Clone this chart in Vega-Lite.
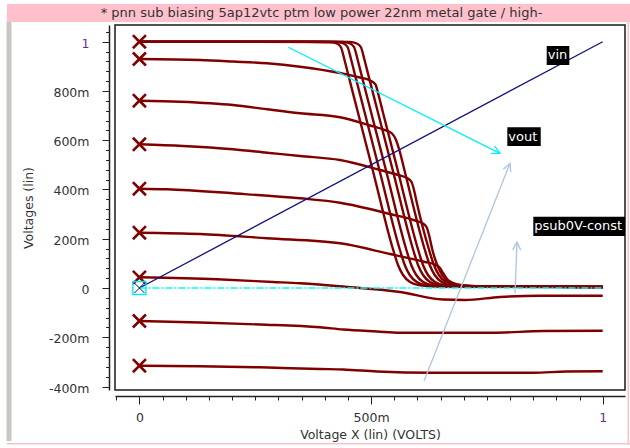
{
 "$schema": "https://vega.github.io/schema/vega-lite/v6.json",
 "width": 510,
 "height": 365,
 "autosize": {"type": "none"},
 "padding": {"left": 115, "top": 25, "right": 5, "bottom": 58},
 "background": "white",
 "config": {
  "view": {"stroke": "#1a1a1a", "strokeWidth": 1.5},
  "axis": {"labelFont": "DejaVu Sans", "labelFontSize": 12.5, "labelColor": "#333", "titleFont": "DejaVu Sans", "titleFontSize": 12.5, "titleFontWeight": "normal", "titleColor": "#333", "domainColor": "#222", "tickColor": "#222", "grid": false},
  "text": {"font": "DejaVu Sans"}
 },
 "datasets": {
  "chrome": [
   {"part": "banner", "x": -0.2858, "x2": 1.0589, "y": 1.1531, "y2": 1.0800},
   {"part": "side", "x": -0.2868, "x2": -0.2761, "y": 1.0800, "y2": -0.6212},
   {"part": "edge", "x": -0.2868, "x2": 1.0589, "y": -0.6293, "y2": -0.6354},
   {"part": "edge", "x": 1.0535, "x2": 1.0568, "y": 1.0800, "y2": -0.6354}
  ],
  "banner": [
   {"t": "* pnn sub biasing 5ap12vtc ptm low power 22nm metal gate / high-", "x": 0.3930, "y": 1.1165}
  ],
  "vout": [
   {"s":"L1","x":0,"y":1},{"s":"L1","x":0.2387,"y":1},{"s":"L1","x":0.4110,"y":0.9988},{"s":"L1","x":0.4261,"y":0.9927},{"s":"L1","x":0.4347,"y":0.9785},{"s":"L1","x":0.4427,"y":0.9257},{"s":"L1","x":0.4498,"y":0.8729},{"s":"L1","x":0.4714,"y":0.7146},{"s":"L1","x":0.5038,"y":0.4771},{"s":"L1","x":0.5478,"y":0.1543},{"s":"L1","x":0.5582,"y":0.0934},{"s":"L1","x":0.5690,"y":0.0528},{"s":"L1","x":0.5841,"y":0.0244},{"s":"L1","x":0.6057,"y":0.0110},{"s":"L1","x":0.6489,"y":0.0061},{"s":"L1","x":1,"y":0.0041},
   {"s":"L2","x":0,"y":1},{"s":"L2","x":0.2387,"y":1},{"s":"L2","x":0.4255,"y":0.9988},{"s":"L2","x":0.4406,"y":0.9927},{"s":"L2","x":0.4492,"y":0.9785},{"s":"L2","x":0.4572,"y":0.9257},{"s":"L2","x":0.4643,"y":0.8729},{"s":"L2","x":0.4859,"y":0.7146},{"s":"L2","x":0.5183,"y":0.4771},{"s":"L2","x":0.5623,"y":0.1543},{"s":"L2","x":0.5727,"y":0.0934},{"s":"L2","x":0.5835,"y":0.0528},{"s":"L2","x":0.5986,"y":0.0244},{"s":"L2","x":0.6202,"y":0.0110},{"s":"L2","x":0.6634,"y":0.0061},{"s":"L2","x":1,"y":0.0041},
   {"s":"L3","x":0,"y":1},{"s":"L3","x":0.2387,"y":1},{"s":"L3","x":0.4395,"y":0.9988},{"s":"L3","x":0.4546,"y":0.9927},{"s":"L3","x":0.4632,"y":0.9785},{"s":"L3","x":0.4712,"y":0.9257},{"s":"L3","x":0.4783,"y":0.8729},{"s":"L3","x":0.4999,"y":0.7146},{"s":"L3","x":0.5323,"y":0.4771},{"s":"L3","x":0.5763,"y":0.1543},{"s":"L3","x":0.5867,"y":0.0934},{"s":"L3","x":0.5975,"y":0.0528},{"s":"L3","x":0.6126,"y":0.0244},{"s":"L3","x":0.6342,"y":0.0110},{"s":"L3","x":0.6774,"y":0.0061},{"s":"L3","x":1,"y":0.0041},
   {"s":"L4","x":0,"y":1},{"s":"L4","x":0.2387,"y":1},{"s":"L4","x":0.4542,"y":0.9988},{"s":"L4","x":0.4693,"y":0.9927},{"s":"L4","x":0.4779,"y":0.9785},{"s":"L4","x":0.4859,"y":0.9257},{"s":"L4","x":0.4930,"y":0.8729},{"s":"L4","x":0.5146,"y":0.7146},{"s":"L4","x":0.5470,"y":0.4771},{"s":"L4","x":0.5910,"y":0.1543},{"s":"L4","x":0.6014,"y":0.0934},{"s":"L4","x":0.6122,"y":0.0528},{"s":"L4","x":0.6273,"y":0.0244},{"s":"L4","x":0.6489,"y":0.0110},{"s":"L4","x":0.6921,"y":0.0061},{"s":"L4","x":1,"y":0.0041},
   {"s":"L5","x":0,"y":0.9298},{"s":"L5","x":0.1308,"y":0.9257},{"s":"L5","x":0.2021,"y":0.9196},{"s":"L5","x":0.2754,"y":0.9123},{"s":"L5","x":0.3466,"y":0.8985},{"s":"L5","x":0.4330,"y":0.8729},{"s":"L5","x":0.4761,"y":0.8546},{"s":"L5","x":0.4977,"y":0.8425},{"s":"L5","x":0.5096,"y":0.8262},{"s":"L5","x":0.5150,"y":0.7917},{"s":"L5","x":0.5254,"y":0.7146},{"s":"L5","x":0.5577,"y":0.4771},{"s":"L5","x":0.6018,"y":0.1543},{"s":"L5","x":0.6121,"y":0.0934},{"s":"L5","x":0.6229,"y":0.0528},{"s":"L5","x":0.6380,"y":0.0244},{"s":"L5","x":0.6596,"y":0.0110},{"s":"L5","x":0.7028,"y":0.0061},{"s":"L5","x":1,"y":0.0041},
   {"s":"L6","x":0,"y":0.7605},{"s":"L6","x":0.0876,"y":0.7564},{"s":"L6","x":0.2021,"y":0.7430},{"s":"L6","x":0.2754,"y":0.7255},{"s":"L6","x":0.3466,"y":0.7093},{"s":"L6","x":0.4330,"y":0.6931},{"s":"L6","x":0.4977,"y":0.6598},{"s":"L6","x":0.5301,"y":0.6407},{"s":"L6","x":0.5452,"y":0.6273},{"s":"L6","x":0.5539,"y":0.6009},{"s":"L6","x":0.5610,"y":0.5603},{"s":"L6","x":0.5722,"y":0.4771},{"s":"L6","x":0.6162,"y":0.1543},{"s":"L6","x":0.6266,"y":0.0934},{"s":"L6","x":0.6374,"y":0.0528},{"s":"L6","x":0.6525,"y":0.0244},{"s":"L6","x":0.6741,"y":0.0110},{"s":"L6","x":0.7172,"y":0.0061},{"s":"L6","x":1,"y":0.0041},
   {"s":"L7","x":0,"y":0.5834},{"s":"L7","x":0.0941,"y":0.5765},{"s":"L7","x":0.2021,"y":0.5631},{"s":"L7","x":0.2754,"y":0.5493},{"s":"L7","x":0.3466,"y":0.5359},{"s":"L7","x":0.4330,"y":0.5197},{"s":"L7","x":0.5193,"y":0.4791},{"s":"L7","x":0.5625,"y":0.4568},{"s":"L7","x":0.5776,"y":0.4466},{"s":"L7","x":0.5873,"y":0.4304},{"s":"L7","x":0.5927,"y":0.3979},{"s":"L7","x":0.5974,"y":0.3573},{"s":"L7","x":0.6253,"y":0.1543},{"s":"L7","x":0.6357,"y":0.0934},{"s":"L7","x":0.6464,"y":0.0528},{"s":"L7","x":0.6616,"y":0.0244},{"s":"L7","x":0.6831,"y":0.0110},{"s":"L7","x":0.7263,"y":0.0061},{"s":"L7","x":1,"y":0.0041},
   {"s":"L8","x":0,"y":0.4032},{"s":"L8","x":0.0596,"y":0.4007},{"s":"L8","x":0.2021,"y":0.3845},{"s":"L8","x":0.3466,"y":0.3642},{"s":"L8","x":0.4330,"y":0.3463},{"s":"L8","x":0.5409,"y":0.3004},{"s":"L8","x":0.5949,"y":0.2741},{"s":"L8","x":0.6100,"y":0.2639},{"s":"L8","x":0.6197,"y":0.2477},{"s":"L8","x":0.6251,"y":0.2152},{"s":"L8","x":0.6324,"y":0.1543},{"s":"L8","x":0.6428,"y":0.0934},{"s":"L8","x":0.6536,"y":0.0528},{"s":"L8","x":0.6687,"y":0.0244},{"s":"L8","x":0.6903,"y":0.0110},{"s":"L8","x":0.7334,"y":0.0061},{"s":"L8","x":1,"y":0.0041},
   {"s":"L9","x":0,"y":0.2245},{"s":"L9","x":0.1308,"y":0.2192},{"s":"L9","x":0.2754,"y":0.2018},{"s":"L9","x":0.4330,"y":0.1815},{"s":"L9","x":0.5409,"y":0.1380},{"s":"L9","x":0.6164,"y":0.1056},{"s":"L9","x":0.6380,"y":0.0954},{"s":"L9","x":0.6488,"y":0.0812},{"s":"L9","x":0.6553,"y":0.0609},{"s":"L9","x":0.6639,"y":0.0365},{"s":"L9","x":0.6747,"y":0.0223},{"s":"L9","x":0.6963,"y":0.0110},{"s":"L9","x":0.7395,"y":0.0061},{"s":"L9","x":1,"y":0.0041},
   {"s":"C10","x":0,"y":0.0434},{"s":"C10","x":0.1675,"y":0.0353},{"s":"C10","x":0.2884,"y":0.0244},{"s":"C10","x":0.3466,"y":0.0191},{"s":"C10","x":0.4395,"y":0.0061},{"s":"C10","x":0.5625,"y":-0.0162},{"s":"C10","x":0.6553,"y":-0.0467},{"s":"C10","x":0.7028,"y":-0.0487},{"s":"C10","x":0.7783,"y":-0.0365},{"s":"C10","x":0.8647,"y":-0.0313},{"s":"C10","x":1,"y":-0.0313},
   {"s":"C11","x":0,"y":-0.1340},{"s":"C11","x":0.1308,"y":-0.1401},{"s":"C11","x":0.2603,"y":-0.1482},{"s":"C11","x":0.3898,"y":-0.1596},{"s":"C11","x":0.4395,"y":-0.1685},{"s":"C11","x":0.5128,"y":-0.1766},{"s":"C11","x":0.5625,"y":-0.1815},{"s":"C11","x":0.7632,"y":-0.1815},{"s":"C11","x":0.8711,"y":-0.1746},{"s":"C11","x":1,"y":-0.1734},
   {"s":"C12","x":0,"y":-0.3155},{"s":"C12","x":0.1308,"y":-0.3179},{"s":"C12","x":0.2603,"y":-0.3220},{"s":"C12","x":0.3898,"y":-0.3289},{"s":"C12","x":0.4395,"y":-0.3309},{"s":"C12","x":0.5128,"y":-0.3390},{"s":"C12","x":0.6337,"y":-0.3439},{"s":"C12","x":0.8496,"y":-0.3439},{"s":"C12","x":0.9229,"y":-0.3390},{"s":"C12","x":1,"y":-0.3382}
  ],
  "starts": [
   {"x":0,"y":1},{"x":0,"y":0.9298},{"x":0,"y":0.7605},{"x":0,"y":0.5834},{"x":0,"y":0.4032},{"x":0,"y":0.2245},{"x":0,"y":0.0434},{"x":0,"y":-0.1340},{"x":0,"y":-0.3155}
  ],
  "vin": [{"x":0,"y":0},{"x":1,"y":1}],
  "psub": [{"x":0,"y":0},{"x":1,"y":0}],
  "origin": [{"x":0,"y":0}],
  "arrows": [
   {"a":"cyan","x":0.3214,"y":0.9773,"x2":0.7783,"y2":0.5469},
   {"a":"v1","x":0.6143,"y":-0.3776,"x2":0.7999,"y2":0.5063},
   {"a":"v2","x":0.8107,"y":-0.0215,"x2":0.8150,"y2":0.1868}
  ],
  "labels": [
   {"t":"vin","x":0.8791,"x2":0.9279,"y":0.9825,"y2":0.9054,"ym":0.944},
   {"t":"vout","x":0.7941,"x2":0.8662,"y":0.6525,"y2":0.5765,"ym":0.6145},
   {"t":"psub0V-const","x":0.8502,"x2":1.0546,"y":0.2895,"y2":0.2111,"ym":0.2503}
  ]
 },
 "encoding": {
  "x": {"field": "x", "type": "quantitative", "scale": {"domain": [-0.0527, 1.0481], "nice": false, "zero": false}, "axis": null},
  "y": {"field": "y", "type": "quantitative", "scale": {"domain": [-0.4141, 1.0678], "nice": false, "zero": false}, "axis": null}
 },
 "layer": [
  {
   "data": {"name": "chrome"},
   "mark": {"type": "rect", "clip": false},
   "encoding": {
    "x2": {"field": "x2"},
    "y2": {"field": "y2"},
    "color": {"field": "part", "type": "nominal", "scale": {"domain": ["banner", "side", "edge"], "range": ["#ffc0cb", "#c8c8c0", "#ffc0cb"]}, "legend": null}
   }
  },
  {
   "data": {"name": "banner"},
   "mark": {"type": "text", "fontSize": 13, "color": "#333", "align": "center", "baseline": "middle", "clip": false},
   "encoding": {"text": {"field": "t"}}
  },
  {
   "data": {"name": "vout"},
   "mark": {"type": "line", "color": "#800000", "strokeWidth": 2.4, "interpolate": "monotone"},
   "encoding": {
    "detail": {"field": "s"},
    "x": {"field": "x", "type": "quantitative", "scale": {"domain": [-0.0527, 1.0481], "nice": false, "zero": false},
     "axis": {"orient": "bottom", "offset": 6, "values": [0, 0.5, 1], "tickSize": 8, "labelPadding": 7, "domainWidth": 1.5,
      "labelExpr": "datum.value == 0 ? '0' : datum.value == 1 ? '1' : round(datum.value * 1000) + 'm'",
      "labelColor": {"condition": {"test": "datum.value == 1", "value": "#6a2c91"}, "value": "#333"},
      "title": "Voltage X (lin) (VOLTS)", "titlePadding": 5}},
    "y": {"field": "y", "type": "quantitative", "scale": {"domain": [-0.4141, 1.0678], "nice": false, "zero": false},
     "axis": {"orient": "left", "offset": 6, "values": [-0.4, -0.2, 0, 0.2, 0.4, 0.6, 0.8, 1], "tickSize": 7, "labelPadding": 13, "labelOffset": 1.5, "domainWidth": 1.5,
      "labelExpr": "datum.value == 0 ? '0' : abs(datum.value - 1) < 0.000001 ? '1' : (datum.value < 0 ? '-' : '') + round(abs(datum.value) * 1000) + 'm'",
      "labelColor": {"condition": {"test": "abs(datum.value - 1) < 0.000001", "value": "#6a2c91"}, "value": "#333"},
      "title": "Voltages (lin)", "titlePadding": 13}}
   }
  },
  {
   "data": {"name": "starts"},
   "mark": {"type": "point", "shape": "M-1,-1L1,1M-1,1L1,-1", "size": 170, "filled": false, "stroke": "#800000", "strokeWidth": 2.6, "opacity": 1},
   "encoding": {}
  },
  {
   "data": {"name": "vin"},
   "mark": {"type": "line", "color": "#10107f", "strokeWidth": 1.3},
   "encoding": {}
  },
  {
   "data": {"name": "psub"},
   "mark": {"type": "line", "color": "#00ffff", "strokeWidth": 1.5, "strokeDash": [7, 2, 2, 2]},
   "encoding": {
    "x": {"field": "x", "type": "quantitative", "scale": {"domain": [-0.0527, 1.0481], "nice": false, "zero": false},
     "axis": {"orient": "bottom", "offset": 6, "values": [-0.05, 0, 0.05, 0.1, 0.15, 0.2, 0.25, 0.3, 0.35, 0.4, 0.45, 0.5, 0.55, 0.6, 0.65, 0.7, 0.75, 0.8, 0.85, 0.9, 0.95, 1], "tickSize": 4, "labels": false, "domain": false, "title": null}},
    "y": {"field": "y", "type": "quantitative", "scale": {"domain": [-0.4141, 1.0678], "nice": false, "zero": false},
     "axis": {"orient": "left", "offset": 6, "values": [-0.4, -0.36, -0.32, -0.28, -0.24, -0.2, -0.16, -0.12, -0.08, -0.04, 0, 0.04, 0.08, 0.12, 0.16, 0.2, 0.24, 0.28, 0.32, 0.36, 0.4, 0.44, 0.48, 0.52, 0.56, 0.6, 0.64, 0.68, 0.72, 0.76, 0.8, 0.84, 0.88, 0.92, 0.96, 1, 1.04], "tickSize": 3.5, "labels": false, "domain": false, "title": null}}
   }
  },
  {
   "data": {"name": "origin"},
   "mark": {"type": "point", "shape": "square", "size": 170, "filled": false, "stroke": "#00e8f0", "strokeWidth": 1.3, "opacity": 1},
   "encoding": {}
  },
  {
   "data": {"name": "origin"},
   "mark": {"type": "point", "shape": "M-1,-1L1,1M-1,1L1,-1", "size": 100, "filled": false, "stroke": "#10107f", "strokeWidth": 1, "opacity": 1},
   "encoding": {}
  },
  {
   "data": {"name": "arrows"},
   "mark": {"type": "rule", "strokeWidth": 1.3},
   "encoding": {
    "x2": {"field": "x2"},
    "y2": {"field": "y2"},
    "color": {"field": "a", "type": "nominal", "scale": {"domain": ["cyan", "v1", "v2"], "range": ["#00eeff", "#aec4e0", "#aec4e0"]}, "legend": null}
   }
  },
  {
   "data": {"name": "arrows"},
   "transform": [{"filter": "datum.a == 'cyan'"}],
   "mark": {"type": "point", "shape": "M-0.5,1L0,0L0.5,1", "size": 256, "filled": false, "stroke": "#00eeff", "strokeWidth": 1.3, "opacity": 1, "angle": 116.6},
   "encoding": {
    "x": {"field": "x2", "type": "quantitative", "scale": {"domain": [-0.0527, 1.0481], "nice": false, "zero": false}, "axis": null},
    "y": {"field": "y2", "type": "quantitative", "scale": {"domain": [-0.4141, 1.0678], "nice": false, "zero": false}, "axis": null}
   }
  },
  {
   "data": {"name": "arrows"},
   "transform": [{"filter": "datum.a == 'v1'"}],
   "mark": {"type": "point", "shape": "M-0.5,1L0,0L0.5,1", "size": 256, "filled": false, "stroke": "#aec4e0", "strokeWidth": 1.3, "opacity": 1, "angle": 21.6},
   "encoding": {
    "x": {"field": "x2", "type": "quantitative", "scale": {"domain": [-0.0527, 1.0481], "nice": false, "zero": false}, "axis": null},
    "y": {"field": "y2", "type": "quantitative", "scale": {"domain": [-0.4141, 1.0678], "nice": false, "zero": false}, "axis": null}
   }
  },
  {
   "data": {"name": "arrows"},
   "transform": [{"filter": "datum.a == 'v2'"}],
   "mark": {"type": "point", "shape": "M-0.5,1L0,0L0.5,1", "size": 256, "filled": false, "stroke": "#aec4e0", "strokeWidth": 1.3, "opacity": 1, "angle": 2.2},
   "encoding": {
    "x": {"field": "x2", "type": "quantitative", "scale": {"domain": [-0.0527, 1.0481], "nice": false, "zero": false}, "axis": null},
    "y": {"field": "y2", "type": "quantitative", "scale": {"domain": [-0.4141, 1.0678], "nice": false, "zero": false}, "axis": null}
   }
  },
  {
   "data": {"name": "labels"},
   "mark": {"type": "rect", "color": "black", "clip": true},
   "encoding": {"x2": {"field": "x2"}, "y2": {"field": "y2"}}
  },
  {
   "data": {"name": "labels"},
   "mark": {"type": "text", "color": "white", "align": "left", "baseline": "middle", "dx": 1, "fontSize": 13, "clip": true},
   "encoding": {
    "y": {"field": "ym", "type": "quantitative", "scale": {"domain": [-0.4141, 1.0678], "nice": false, "zero": false}, "axis": null},
    "text": {"field": "t"}
   }
  }
 ],
 "resolve": {"axis": {"x": "independent", "y": "independent"}, "scale": {"color": "independent"}}
}
